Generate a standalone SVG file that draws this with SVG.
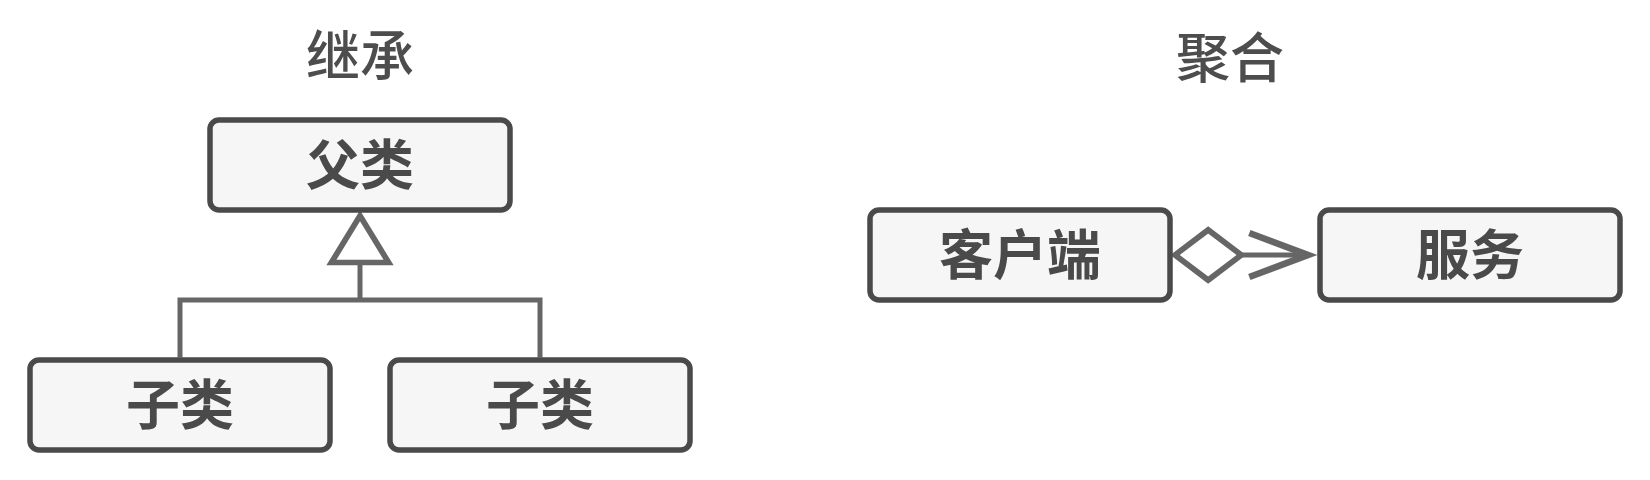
<svg xmlns="http://www.w3.org/2000/svg" width="1650" height="480" viewBox="0 0 1650 480">
  <style>
    .box { fill: #f6f6f6; stroke: #4a4a4a; stroke-width: 5.5; }
    .label { font-family: "Noto Sans CJK SC", "Noto Sans", sans-serif; font-size: 54px; fill: #4a4a4a; text-anchor: middle; font-weight: bold; }
    .title { font-family: "Noto Sans CJK SC", "Noto Sans", sans-serif; font-size: 54px; fill: #4d4d4d; text-anchor: middle; font-weight: 500; }
    .conn { fill: none; stroke: #666666; stroke-width: 5; }
  </style>
  <defs>
    <marker id="tri" markerUnits="userSpaceOnUse" orient="auto" refX="0" refY="0" markerWidth="80" markerHeight="80" viewBox="-5 -35 60 70" overflow="visible">
      <path d="M0,-25 L41,0 L0,25 Z" fill="#ffffff" stroke="#666666" stroke-width="5"/>
    </marker>
    <marker id="diamond" markerUnits="userSpaceOnUse" orient="auto" refX="0" refY="0" markerWidth="80" markerHeight="80" viewBox="-5 -30 70 60" overflow="visible">
      <path d="M0,0 L29,-22 L58,0 L29,22 Z" fill="#ffffff" stroke="#666666" stroke-width="5"/>
    </marker>
    <marker id="open" markerUnits="userSpaceOnUse" orient="auto" refX="0" refY="0" markerWidth="80" markerHeight="80" viewBox="-55 -25 60 50" overflow="visible">
      <path d="M-44,-16.5 L0,0 L-44,16.5" fill="none" stroke="#666666" stroke-width="5"/>
    </marker>
  </defs>

  <text class="title" x="360" y="76">继承</text>
  <text class="title" x="1230" y="78">聚合</text>

  <g id="connectors">
    <path class="conn" d="M180,357.5 V300 H540 V357.5"/>
    <path class="conn" d="M360,300 V262.5" marker-end="url(#tri)"/>
    <path class="conn" d="M1175,255 H1308" marker-start="url(#diamond)" marker-end="url(#open)"/>
  </g>

  <g id="parent">
    <rect class="box" x="210" y="120" width="300" height="90" rx="9"/>
    <text class="label" x="360" y="185">父类</text>
  </g>
  <g id="child1">
    <rect class="box" x="30" y="360" width="300" height="90" rx="9"/>
    <text class="label" x="180" y="425">子类</text>
  </g>
  <g id="child2">
    <rect class="box" x="390" y="360" width="300" height="90" rx="9"/>
    <text class="label" x="540" y="425">子类</text>
  </g>
  <g id="client">
    <rect class="box" x="870" y="210" width="300" height="90" rx="9"/>
    <text class="label" x="1020" y="275">客户端</text>
  </g>
  <g id="service">
    <rect class="box" x="1320" y="210" width="300" height="90" rx="9"/>
    <text class="label" x="1470" y="275">服务</text>
  </g>
</svg>
